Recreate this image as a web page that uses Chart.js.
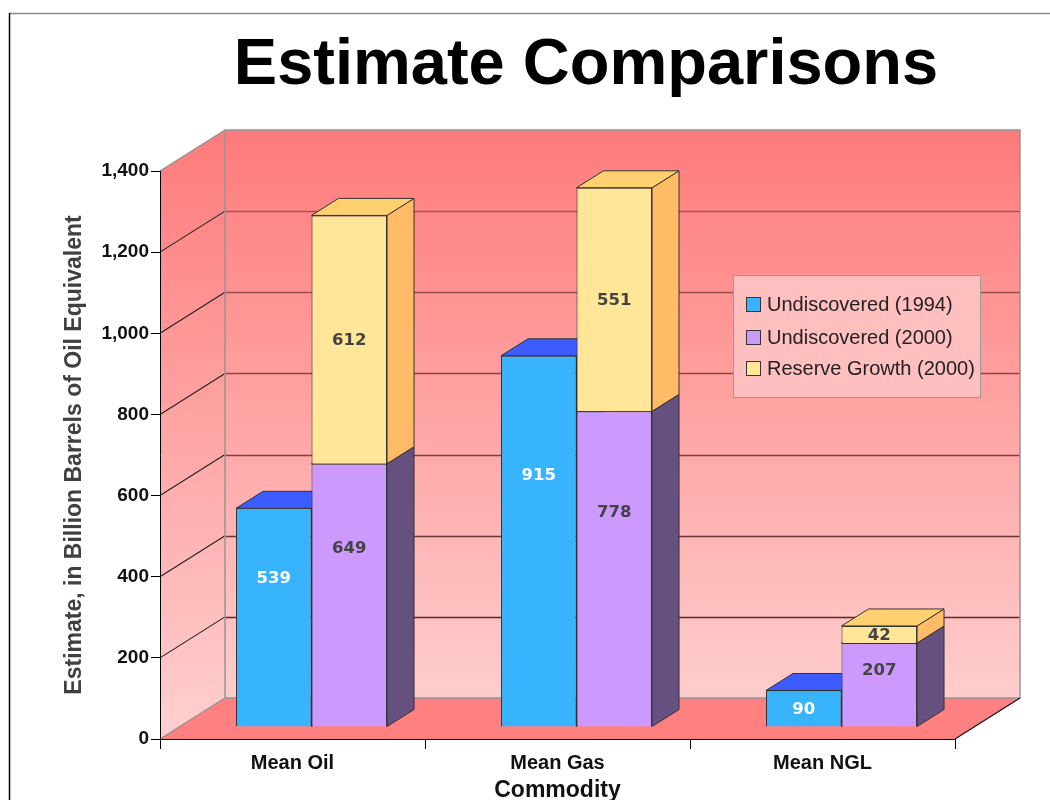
<!DOCTYPE html>
<html>
<head>
<meta charset="utf-8">
<script src="https://cdn.jsdelivr.net/npm/chart.js@4.4.1/dist/chart.umd.min.js"></script>
<style>
  html, body { margin: 0; padding: 0; background: #ffffff; }
  #wrap { width: 1050px; height: 800px; position: relative; }
</style>
</head>
<body>
<div id="wrap"><canvas id="chart" width="1050" height="800"></canvas></div>
<script>
// ---- data ----
const chartTitle = 'Estimate Comparisons';
const categories = ['Mean Oil', 'Mean Gas', 'Mean NGL'];
const undiscovered1994 = [539, 915, 90];
const undiscovered2000 = [649, 778, 207];
const reserveGrowth2000 = [612, 551, 42];
const yTicks = [0, 200, 400, 600, 800, 1000, 1200, 1400];
const seriesNames = ['Undiscovered (1994)', 'Undiscovered (2000)', 'Reserve Growth (2000)'];

// ---- styling ----
const FONT = "'Liberation Sans', Arial, sans-serif";
const LABEL_FONT = "bold 16.5px 'DejaVu Sans', Verdana, sans-serif";
const frontColors = ['#38b4ff', '#cc99ff', '#ffe699'];
const topColors   = ['#3c5cff', '#b07ee0', '#ffd070'];
const sideColors  = ['#2a6fb0', '#66507f', '#ffbb66'];
const labelColors = ['#ffffff', '#444444', '#444444'];

// 3D geometry: depth of the plot box, where the bars stand, and bar thickness
const WALL  = { dx: 65, dy: -41 };
const SHIFT = { dx: 19, dy: -12 };
const SIDE  = { dx: 27, dy: -17 };

function fillPoly(ctx, pts, fill, stroke) {
  ctx.beginPath();
  ctx.moveTo(pts[0][0], pts[0][1]);
  for (let i = 1; i < pts.length; i++) ctx.lineTo(pts[i][0], pts[i][1]);
  ctx.closePath();
  if (fill) { ctx.fillStyle = fill; ctx.fill(); }
  if (stroke) { ctx.strokeStyle = stroke; ctx.lineWidth = 1; ctx.stroke(); }
}

function line(ctx, x1, y1, x2, y2, color, w) {
  ctx.beginPath();
  ctx.moveTo(x1, y1);
  ctx.lineTo(x2, y2);
  ctx.strokeStyle = color;
  ctx.lineWidth = w || 1;
  ctx.stroke();
}

const box3d = {
  id: 'box3d',
  beforeDraw(chart) {
    const ctx = chart.ctx;
    const { left, right, top, bottom } = chart.chartArea;
    const ys = chart.scales.y;
    ctx.save();

    // page frame
    line(ctx, 9, 13.5, 1050, 13.5, '#8a8a8a', 1.5);
    line(ctx, 9.5, 13, 9.5, 800, '#000000', 1.5);

    const bl = left + WALL.dx, br = right + WALL.dx;
    const bt = top + WALL.dy, bb = bottom + WALL.dy;

    // back wall
    const g = ctx.createLinearGradient(0, bt, 0, bb);
    g.addColorStop(0, '#ff7b7b');
    g.addColorStop(1, '#ffcdcd');
    ctx.fillStyle = g;
    ctx.fillRect(bl, bt, br - bl, bb - bt);

    // left wall
    const g2 = ctx.createLinearGradient(0, bt, 0, bottom);
    g2.addColorStop(0, '#ff7b7b');
    g2.addColorStop(1, '#ffd0d0');
    fillPoly(ctx, [[left, bottom], [left, top], [bl, bt], [bl, bb]], g2, null);

    // floor
    fillPoly(ctx, [[left, bottom], [right, bottom], [br, bb], [bl, bb]], '#ff8080', null);

    // grid lines on the back wall and the left wall
    yTicks.forEach(v => {
      const yf = ys.getPixelForValue(v);
      const yb = Math.round(yf + WALL.dy) + 0.5;
      if (v > 0 && v < 1400) {
        const t = v / 1400;
        const a = 0.9 - 0.55 * t;
        line(ctx, bl, yb, br, yb, 'rgba(50,10,10,' + a.toFixed(2) + ')', 1.3);
        line(ctx, left, yf, bl, yf + WALL.dy, '#222222', 1.1);
      }
    });

    // box edges
    line(ctx, left, top, bl, bt, '#909090', 1.3);
    line(ctx, left, bottom, bl, bb, '#909090', 1.3);
    ctx.strokeStyle = '#959595';
    ctx.lineWidth = 1.5;
    ctx.strokeRect(bl, bt, br - bl, bb - bt);
    line(ctx, right, bottom, br, bb, '#111111', 1.2);

    ctx.restore();
  },
  // the flat bars are replaced by the extruded ones drawn below
  beforeDatasetDraw() {
    return false;
  },
  afterDatasetsDraw(chart) {
    const ctx = chart.ctx;
    const datasets = chart.data.datasets;
    const last = datasets.length - 1;
    ctx.save();
    ctx.translate(SHIFT.dx, SHIFT.dy);

    // back-to-front: side and top faces, then the bar's own front face
    datasets.forEach((ds, i) => {
      const meta = chart.getDatasetMeta(i);
      meta.data.forEach(bar => {
        const p = bar.getProps(['x', 'y', 'base', 'width'], true);
        const l = p.x - p.width / 2, r = p.x + p.width / 2;
        const y = p.y, b = p.base;
        fillPoly(ctx, [[r, y], [r + SIDE.dx, y + SIDE.dy], [r + SIDE.dx, b + SIDE.dy], [r, b]], sideColors[i], '#333333');
        fillPoly(ctx, [[l, y], [l + SIDE.dx, y + SIDE.dy], [r + SIDE.dx, y + SIDE.dy], [r, y]], topColors[i], '#333333');
        bar.draw(ctx, chart.chartArea);
      });
    });

    // value labels
    datasets.forEach((ds, i) => {
      const meta = chart.getDatasetMeta(i);
      meta.data.forEach((bar, j) => {
        const p = bar.getProps(['x', 'y', 'base'], true);
        const h = p.base - p.y;
        const frac = (i === last || h < 60) ? 0.5 : 0.68;
        ctx.font = LABEL_FONT;
        ctx.fillStyle = labelColors[i];
        ctx.textAlign = 'center';
        ctx.textBaseline = 'middle';
        ctx.fillText(String(ds.data[j]), p.x, p.base - h * frac + 1);
      });
    });
    ctx.restore();
  },
  afterDraw(chart) {
    const ctx = chart.ctx;
    ctx.save();
    // title
    ctx.font = 'bold 65px ' + FONT;
    ctx.fillStyle = '#000000';
    ctx.textAlign = 'center';
    ctx.textBaseline = 'alphabetic';
    ctx.fillText(chartTitle, 586, 84);

    // legend
    const lx = 733, ly = 275, lw = 247, lh = 122;
    ctx.fillStyle = '#ffbfbf';
    ctx.fillRect(lx, ly, lw, lh);
    ctx.strokeStyle = '#9a9a9a';
    ctx.lineWidth = 1;
    ctx.strokeRect(lx + 0.5, ly + 0.5, lw, lh);
    const rows = [304, 337, 368];
    chart.data.datasets.forEach((ds, k) => {
      const cy = rows[k];
      ctx.fillStyle = frontColors[k];
      ctx.fillRect(746, cy - 7, 14, 14);
      ctx.strokeStyle = '#333333';
      ctx.strokeRect(746.5, cy - 6.5, 14, 14);
      ctx.font = '20px ' + FONT;
      ctx.fillStyle = '#222222';
      ctx.textAlign = 'left';
      ctx.textBaseline = 'middle';
      ctx.fillText(ds.label, 767, cy + 1);
    });
    ctx.restore();
  }
};

new Chart(document.getElementById('chart'), {
  type: 'bar',
  data: {
    labels: categories,
    datasets: [
      { label: seriesNames[0], data: undiscovered1994, stack: 'a' },
      { label: seriesNames[1], data: undiscovered2000, stack: 'b' },
      { label: seriesNames[2], data: reserveGrowth2000, stack: 'b' }
    ].map((d, k) => Object.assign(d, {
      backgroundColor: frontColors[k],
      borderColor: '#333333',
      borderWidth: 1,
      categoryPercentage: 0.57,
      barPercentage: 1.0,
      clip: false
    }))
  },
  options: {
    responsive: false,
    devicePixelRatio: 1,
    animation: false,
    events: [],
    layout: { padding: { left: 0, top: 171, right: 95, bottom: 0 } },
    plugins: {
      legend: { display: false },
      title: { display: false },
      tooltip: { enabled: false }
    },
    scales: {
      x: {
        stacked: true,
        afterFit(s) { s.height = 61; },
        grid: { offset: true, drawOnChartArea: false, tickLength: 10, color: '#000000', lineWidth: 1 },
        border: { display: true, color: '#000000', width: 1 },
        ticks: { color: '#111111', font: { family: FONT, size: 20, weight: 'bold' }, padding: 2 },
        title: {
          display: true, text: 'Commodity', color: '#111111',
          font: { family: FONT, size: 23, weight: 'bold' },
          padding: { top: 0, bottom: -4 }
        }
      },
      y: {
        stacked: true,
        min: 0,
        max: 1400,
        afterFit(s) { s.width = 160; },
        afterBuildTicks(s) { s.ticks = yTicks.map(v => ({ value: v })); },
        grid: { drawOnChartArea: false, tickLength: 9, color: '#000000', lineWidth: 1 },
        border: { display: true, color: '#000000', width: 1 },
        ticks: {
          color: '#111111', padding: 2,
          font: { family: FONT, size: 19, weight: 'bold' },
          callback: v => Number(v).toLocaleString('en-US')
        },
        title: {
          display: true, text: 'Estimate, in Billion Barrels of Oil Equivalent', color: '#404040',
          font: { family: FONT, size: 23, weight: 'bold' },
          padding: { top: 61, bottom: 0 }
        }
      }
    }
  },
  plugins: [box3d]
});
</script>
</body>
</html>
